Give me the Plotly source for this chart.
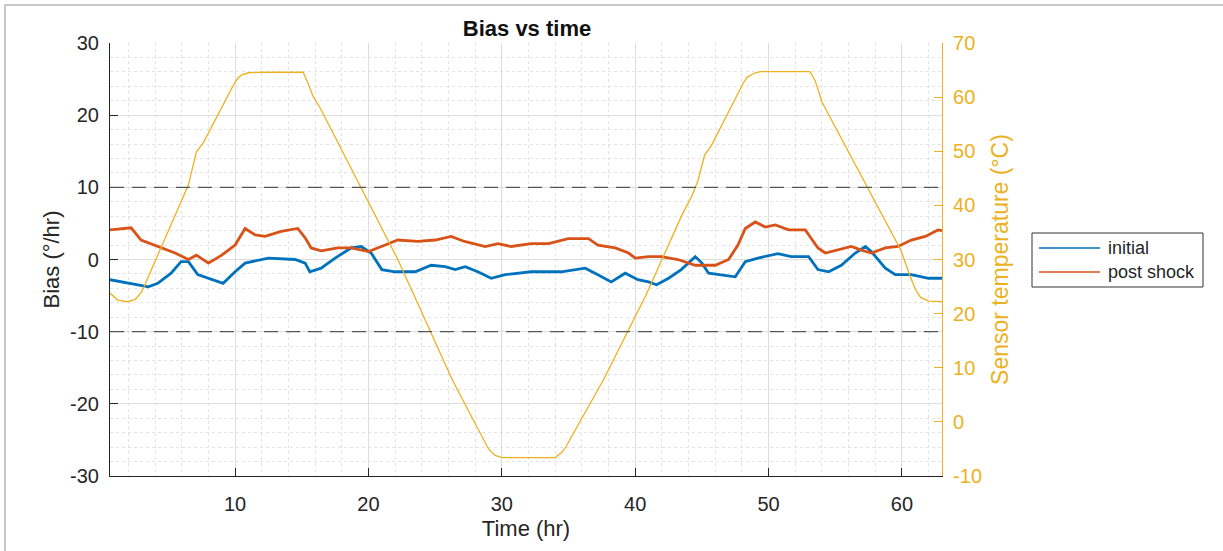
import plotly.graph_objects as go

# ---------------- data ----------------
temp_time = [0.62, 1.2, 1.9, 2.5, 3.0, 5.5, 6.0, 6.5, 7.1, 7.6, 9.87, 10.2, 10.5, 11.0, 12.0,
             15.1, 15.4, 15.85, 16.4, 19.6, 20.5, 22.2, 26.3, 29.0, 29.5, 30.0, 34.0, 34.5,
             34.8, 37.6, 40.8, 43.5, 44.2, 44.7, 45.2, 45.7, 48.1, 48.4, 49.0, 49.4, 53.1,
             53.5, 54.0, 56.1, 58.5, 59.9, 60.6, 61.0, 61.4, 62.0, 63.0]
temp_vals = [23.8, 22.5, 22.2, 22.6, 24.0, 38.2, 41.0, 43.8, 49.9, 51.5, 62.2, 63.5, 64.1, 64.5, 64.6,
             64.6, 63.0, 60.1, 57.9, 42.5, 38.2, 30.0, 7.7, -5.0, -6.2, -6.6, -6.6, -5.6,
             -4.6, 7.7, 23.4, 38.2, 41.5, 44.5, 49.3, 51.0, 62.6, 63.7, 64.5, 64.7, 64.7,
             63.0, 59.1, 49.3, 38.2, 31.8, 27.0, 24.5, 23.0, 22.3, 22.2]

initial_time = [0.62, 2.2, 3.5, 4.2, 5.2, 5.95, 6.5, 7.2, 8.0, 9.1, 10.0, 10.75, 12.5, 14.5, 15.25,
                15.6, 16.45, 17.5, 18.7, 19.45, 20.2, 21.0, 22.0, 23.5, 24.7, 25.75, 26.5, 27.25,
                28.2, 29.2, 30.25, 31.2, 32.2, 34.45, 36.25, 37.2, 38.2, 39.25, 40.2, 41.0, 41.6,
                42.5, 43.45, 44.5, 45.0, 45.5, 46.5, 47.5, 48.0, 48.25, 49.2, 50.7, 51.7, 53.0,
                53.7, 54.5, 55.45, 56.5, 57.25, 57.7, 58.75, 59.5, 60.7, 62.0, 63.0]
initial_bias = [-2.8, -3.3, -3.8, -3.3, -1.9, -0.3, -0.3, -2.1, -2.6, -3.3, -1.7, -0.5, 0.2, 0.0, -0.5,
                -1.7, -1.2, 0.2, 1.6, 1.8, 0.9, -1.4, -1.7, -1.7, -0.8, -1.0, -1.4, -1.0,
                -1.7, -2.6, -2.1, -1.9, -1.7, -1.7, -1.2, -2.1, -3.1, -1.9, -2.8, -3.1, -3.5,
                -2.6, -1.4, 0.4, -0.5, -1.9, -2.1, -2.4, -1.0, -0.3, 0.2, 0.8, 0.4, 0.4,
                -1.4, -1.7, -0.8, 0.9, 1.8, 1.1, -1.2, -2.1, -2.1, -2.6, -2.6]

post_time = [0.62, 2.2, 2.95, 4.2, 5.5, 6.5, 7.1, 8.0, 9.0, 10.0, 10.75, 11.5, 12.25, 13.45, 14.7,
             15.25, 15.7, 16.45, 17.7, 18.7, 20.0, 21.25, 22.2, 23.7, 25.0, 26.2, 27.2, 28.75,
             29.7, 30.7, 32.2, 33.5, 34.97, 36.5, 37.2, 38.5, 39.5, 40.0, 41.0, 41.95, 43.2,
             44.5, 46.0, 47.0, 47.7, 48.25, 49.0, 49.75, 50.5, 51.5, 52.75, 53.2, 53.7, 54.25,
             55.2, 56.2, 56.95, 57.7, 58.75, 59.7, 60.7, 61.75, 62.7, 63.0]
post_bias = [4.1, 4.4, 2.7, 1.8, 0.9, 0.0, 0.6, -0.5, 0.6, 2.0, 4.3, 3.4, 3.2, 3.9, 4.3,
             3.0, 1.6, 1.2, 1.6, 1.6, 1.1, 2.0, 2.7, 2.5, 2.7, 3.2, 2.5, 1.8,
             2.2, 1.8, 2.2, 2.2, 2.9, 2.9, 2.0, 1.6, 0.9, 0.2, 0.4, 0.4, 0.0,
             -0.8, -0.8, 0.0, 2.0, 4.3, 5.2, 4.5, 4.8, 4.1, 4.1, 2.9, 1.6, 0.9,
             1.3, 1.8, 1.3, 0.9, 1.6, 1.8, 2.7, 3.2, 4.1, 4.0]

limit_lines = [10, -10]
x_ticks = [10, 20, 30, 40, 50, 60]
y_ticks = [-30, -20, -10, 0, 10, 20, 30]
y2_ticks = [-10, 0, 10, 20, 30, 40, 50, 60, 70]
series_names = ["initial", "post shock"]

# ---------------- style ----------------
BLUE = "#0072BD"
ORANGE = "#D95319"
YELLOW = "#EDB120"
AXC = "#262626"
FONT = "Liberation Sans, Arial, sans-serif"

W, H = 1223, 551
L, R, T, B = 110, 942, 43, 476


def px(x):
    return (x - L) / (R - L)


def py(y):
    return (B - y) / (B - T)


fig = go.Figure()
fig.add_trace(go.Scatter(x=initial_time, y=initial_bias, mode="lines", name=series_names[0],
                         line=dict(color=BLUE, width=2.8), showlegend=False))
fig.add_trace(go.Scatter(x=post_time, y=post_bias, mode="lines", name=series_names[1],
                         line=dict(color=ORANGE, width=2.8), showlegend=False))
fig.add_trace(go.Scatter(x=temp_time, y=temp_vals, mode="lines", name="Sensor temperature",
                         line=dict(color=YELLOW, width=1.3), yaxis="y2", showlegend=False))

shapes = []
for v in limit_lines:
    shapes.append(dict(type="line", xref="paper", yref="y", x0=0, x1=1, y0=v, y1=v,
                       line=dict(color="#555555", width=1.4, dash="14px,8px")))

# figure frame
shapes.append(dict(type="rect", xref="paper", yref="paper", x0=px(5), x1=px(1240),
                   y0=py(570), y1=py(5), line=dict(color="#c8c8c8", width=2), layer="below"))

# legend (drawn manually)
shapes.append(dict(type="rect", xref="paper", yref="paper", x0=px(1032), x1=px(1203),
                   y0=py(287), y1=py(233), line=dict(color="#333333", width=1),
                   fillcolor="white"))
legend_rows = [(248, BLUE), (272, ORANGE)]
annotations = []
for (yy, col), name in zip(legend_rows, series_names):
    shapes.append(dict(type="line", xref="paper", yref="paper", x0=px(1039), x1=px(1100),
                       y0=py(yy), y1=py(yy), line=dict(color=col, width=1.3)))
    annotations.append(dict(xref="paper", yref="paper", x=px(1106), y=py(yy), text=name,
                            showarrow=False, xanchor="left", yanchor="middle",
                            font=dict(family=FONT, size=18, color=AXC)))

fig.update_layout(
    width=W, height=H,
    margin=dict(l=L, r=W - R, t=T, b=H - B, pad=0),
    paper_bgcolor="white", plot_bgcolor="white",
    font=dict(family=FONT, color=AXC),
    title=dict(text="<b>Bias vs time</b>", xref="paper", x=px(527), xanchor="center",
               yref="container", y=1 - 28 / H, yanchor="middle",
               font=dict(size=22, color="#111111")),
    xaxis=dict(range=[0.62, 63.0], tickvals=x_ticks, ticks="inside", ticklen=8,
               tickcolor=AXC, showline=True, linecolor=AXC, linewidth=1.2,
               showgrid=True, gridcolor="#dddddd", gridwidth=1, zeroline=False,
               tickfont=dict(size=20, color=AXC), ticklabelstandoff=10,
               minor=dict(dtick=2, tick0=0, showgrid=True, gridcolor="#e3e3e3",
                          griddash="dot", gridwidth=1),
               title=dict(text="Time (hr)", font=dict(size=22, color=AXC), standoff=6),
               mirror=False),
    yaxis=dict(range=[-30, 30], tickvals=y_ticks, ticktext=[str(v) for v in y_ticks],
               ticks="inside", ticklen=8, tickcolor=AXC,
               showline=True, linecolor=AXC, linewidth=1.2,
               showgrid=True, gridcolor="#dddddd", gridwidth=1, zeroline=False,
               tickfont=dict(size=20, color=AXC), ticklabelstandoff=6,
               minor=dict(dtick=2, tick0=0, showgrid=True, gridcolor="#e3e3e3",
                          griddash="dot", gridwidth=1),
               title=dict(text="Bias (°/hr)", font=dict(size=22, color=AXC), standoff=4)),
    yaxis2=dict(range=[-10, 70], tickvals=y2_ticks, ticktext=[str(v) for v in y2_ticks],
                overlaying="y", side="right", anchor="x",
                ticks="inside", ticklen=8, tickcolor=YELLOW,
                showline=True, linecolor=YELLOW, linewidth=1.2,
                showgrid=False, zeroline=False,
                tickfont=dict(size=20, color=YELLOW), ticklabelstandoff=6,
                title=dict(text="Sensor temperature (°C)", font=dict(size=23, color=YELLOW),
                           standoff=10)),
    shapes=shapes,
    annotations=annotations,
    showlegend=False,
)

fig.write_html("out.html")
